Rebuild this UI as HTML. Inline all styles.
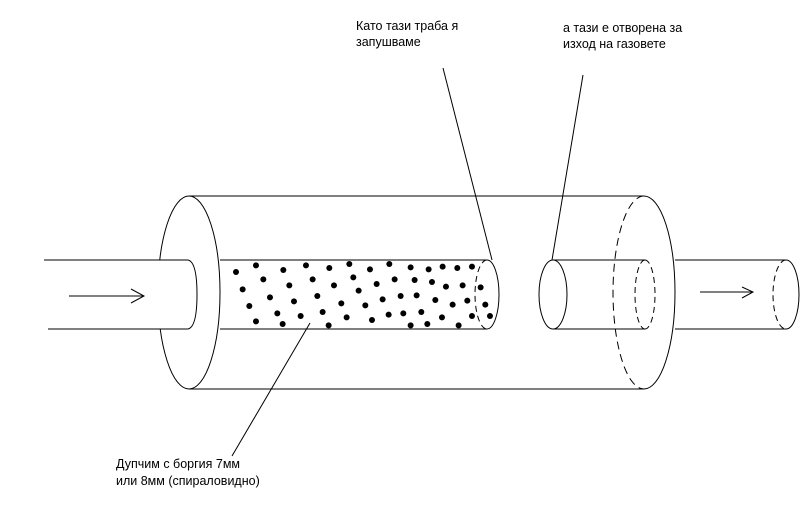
<!DOCTYPE html>
<html><head><meta charset="utf-8"><style>
html,body{margin:0;padding:0;background:#fff;}
svg{display:block;}
text{font-family:"Liberation Sans",Arial,sans-serif;font-size:12.5px;fill:#000;}
</style></head><body>
<svg width="812" height="527" viewBox="0 0 812 527" xmlns="http://www.w3.org/2000/svg">
<g fill="none" stroke="#000" stroke-width="1">
<!-- big cylinder -->
<ellipse cx="189" cy="292.5" rx="31" ry="96.5"/>
<line x1="189" y1="196" x2="644" y2="196"/>
<line x1="189" y1="389" x2="644" y2="389"/>
<path d="M644 196 A31 96.5 0 0 1 644 389"/>
<path d="M644 196 A31 96.5 0 0 0 644 389" stroke-dasharray="8,5"/>
<!-- inlet pipe -->
<rect x="44" y="260.5" width="145" height="68" fill="#fff" stroke="none"/>
<line x1="44" y1="260" x2="188" y2="260"/>
<line x1="48" y1="329" x2="188" y2="329"/>
<path d="M188 260 Q197 262 197 294.5 Q197 327 188 329"/>
<line x1="69" y1="296" x2="144" y2="296"/>
<path d="M131 289 L144 296 L131 303"/>
<!-- perforated inner pipe -->
<line x1="220" y1="260" x2="487" y2="260"/>
<line x1="220" y1="329" x2="487" y2="329"/>
<path d="M487 260 A12 34.5 0 0 1 487 329"/>
<path d="M487 260 A12 34.5 0 0 0 487 329" stroke-dasharray="6,4"/>
<!-- outlet inner pipe -->
<ellipse cx="553" cy="294.5" rx="14" ry="34.5"/>
<line x1="553" y1="260" x2="645" y2="260"/>
<line x1="553" y1="329" x2="645" y2="329"/>
<path d="M645 260 A10 34.5 0 0 1 645 329" stroke-dasharray="6,4"/>
<path d="M645 260 A10 34.5 0 0 0 645 329" stroke-dasharray="6,4"/>
<!-- outlet pipe -->
<line x1="675" y1="260" x2="786" y2="260"/>
<line x1="675" y1="329" x2="786" y2="329"/>
<path d="M786 260 A13 34.5 0 0 1 786 329"/>
<path d="M786 260 A13 34.5 0 0 0 786 329" stroke-dasharray="6,4"/>
<line x1="700" y1="292" x2="753" y2="292"/>
<path d="M742 287 L753 292 L742 298"/>
<!-- leaders -->
<line x1="443" y1="68" x2="492" y2="260"/>
<line x1="583" y1="75" x2="552" y2="260"/>
<line x1="310" y1="323" x2="232" y2="456"/>
</g>
<g fill="#000" transform="translate(150,190) scale(0.3333)">
<circle cx="258" cy="246" r="9"/><circle cx="318" cy="226" r="9"/><circle cx="340" cy="268" r="9"/><circle cx="278" cy="298" r="9"/><circle cx="298" cy="348" r="9"/><circle cx="318" cy="394" r="9"/><circle cx="360" cy="322" r="9"/><circle cx="382" cy="370" r="9"/><circle cx="398" cy="402" r="9"/><circle cx="400" cy="240" r="9"/><circle cx="418" cy="286" r="9"/><circle cx="432" cy="334" r="9"/><circle cx="452" cy="378" r="9"/><circle cx="468" cy="226" r="9"/><circle cx="488" cy="268" r="9"/><circle cx="502" cy="318" r="9"/><circle cx="518" cy="366" r="9"/><circle cx="536" cy="406" r="9"/><circle cx="538" cy="234" r="9"/><circle cx="552" cy="286" r="9"/><circle cx="574" cy="340" r="9"/><circle cx="590" cy="382" r="9"/><circle cx="598" cy="222" r="9"/><circle cx="610" cy="262" r="9"/><circle cx="626" cy="302" r="9"/><circle cx="646" cy="346" r="9"/><circle cx="666" cy="390" r="9"/><circle cx="660" cy="238" r="9"/><circle cx="680" cy="282" r="9"/><circle cx="698" cy="328" r="9"/><circle cx="716" cy="374" r="9"/><circle cx="718" cy="222" r="9"/><circle cx="734" cy="268" r="9"/><circle cx="752" cy="318" r="9"/><circle cx="760" cy="370" r="9"/><circle cx="782" cy="406" r="9"/><circle cx="782" cy="232" r="9"/><circle cx="794" cy="270" r="9"/><circle cx="800" cy="316" r="9"/><circle cx="814" cy="366" r="9"/><circle cx="832" cy="402" r="9"/><circle cx="836" cy="238" r="9"/><circle cx="846" cy="276" r="9"/><circle cx="856" cy="330" r="9"/><circle cx="876" cy="382" r="9"/><circle cx="878" cy="230" r="9"/><circle cx="888" cy="290" r="9"/><circle cx="908" cy="344" r="9"/><circle cx="922" cy="234" r="9"/><circle cx="938" cy="286" r="9"/><circle cx="952" cy="332" r="9"/><circle cx="966" cy="378" r="9"/><circle cx="926" cy="406" r="9"/><circle cx="966" cy="230" r="9"/><circle cx="992" cy="292" r="9"/><circle cx="1006" cy="344" r="9"/><circle cx="1020" cy="378" r="9"/>
</g>
<text x="356" y="30">Като тази траба я</text>
<text x="356" y="46">запушваме</text>
<text x="563" y="32">а тази е отворена за</text>
<text x="563" y="48">изход на газовете</text>
<text x="116" y="468">Дупчим с боргия 7мм</text>
<text x="116" y="485">или 8мм (спираловидно)</text>
</svg>
</body></html>
